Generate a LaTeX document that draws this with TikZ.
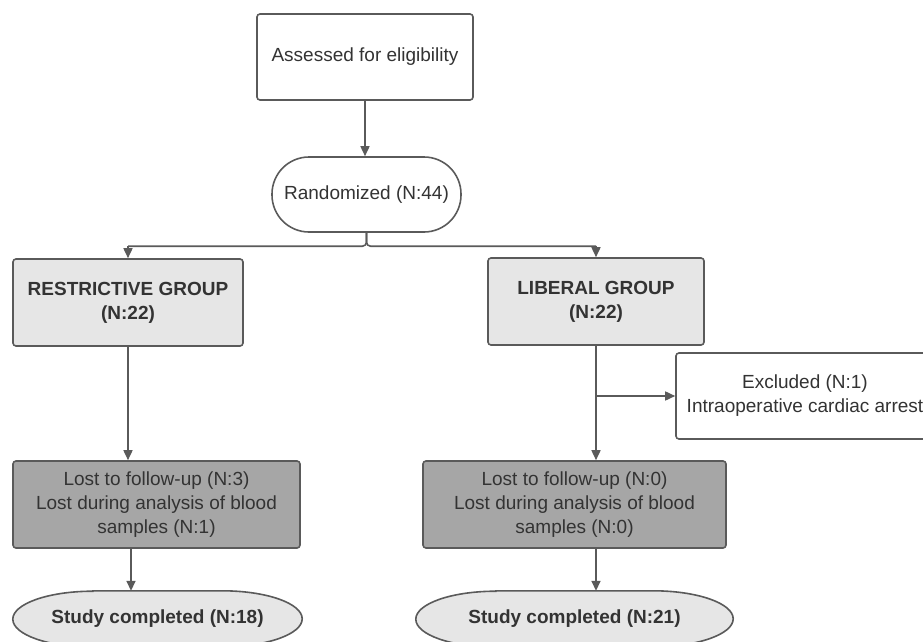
\documentclass[tikz,border=0pt]{standalone}
\usepackage{fontspec}
\setmainfont{Liberation Sans}
\usetikzlibrary{arrows.meta,backgrounds,calc}
\definecolor{linec}{HTML}{5A5A5A}
\definecolor{textc}{HTML}{333333}
\definecolor{lightg}{HTML}{E6E6E6}
\definecolor{darkg}{HTML}{A6A6A6}
\begin{document}
\begin{tikzpicture}[x=1pt,y=-1pt,
  every node/.style={font=\fontsize{19}{24}\selectfont, text=textc, align=center, inner sep=0pt},
  box/.style={draw=linec, line width=1.6pt, rounded corners=3pt, minimum height=87pt},
  lbox/.style={box, fill=lightg},
  dbox/.style={box, fill=darkg},
  arr/.style={draw=linec, line width=1.6pt, -{Triangle[length=10pt,width=9pt]}},
  ln/.style={draw=linec, line width=1.6pt},
  term/.style={draw=linec, line width=1.6pt, fill=lightg}
]
\useasboundingbox (0,0) rectangle (923,642);

\node[box, fill=white, minimum width=216pt, minimum height=86pt] (assess) at (365,57) {Assessed for eligibility};
\node[draw=linec, line width=1.6pt, fill=white, rounded corners=37pt, minimum width=189pt, minimum height=75pt] (rand) at (366.5,194.5) {Randomized (N:44)};

\node[lbox, minimum width=230pt] (rest) at (128,302.5) {\bfseries RESTRICTIVE GROUP\\\bfseries (N:22)};
\node[lbox, minimum width=216pt] (lib) at (596,301.5) {\bfseries LIBERAL GROUP\\\bfseries (N:22)};

\node[box, fill=white, minimum width=258pt, minimum height=86pt] (excl) at (805,396) {Excluded (N:1)\\Intraoperative cardiac arrest};

\node[dbox, minimum width=287pt] (lostL) at (156.5,504.5) {Lost to follow-up (N:3)\\Lost during analysis of blood\\samples (N:1)};
\node[dbox, minimum width=303pt] (lostR) at (574.5,504.5) {Lost to follow-up (N:0)\\Lost during analysis of blood\\samples (N:0)};

\node[minimum width=289pt, minimum height=56pt] (studyL) at (157.5,619) {\bfseries Study completed (N:18)};
\node[minimum width=317pt, minimum height=56pt] (studyR) at (574.5,619) {\bfseries Study completed (N:21)};

\begin{scope}[on background layer]
  \fill[white] (0,0) rectangle (923,642);
  \foreach \s in {studyL,studyR}{
    \draw[term] ([xshift=80pt]\s.north west) -- ([xshift=-80pt]\s.north east)
      arc[start angle=90, end angle=-90, x radius=80pt, y radius=28pt]
      -- ([xshift=80pt]\s.south west)
      arc[start angle=270, end angle=90, x radius=80pt, y radius=28pt] -- cycle;
  }
\end{scope}

% connectors
\draw[arr] (assess.south) -- (assess.south |- rand.north);
\coordinate (brL) at ($(rest.north)+(0,-12)$);
\coordinate (brR) at ($(lib.north |- brL)$);
\draw[ln, rounded corners=4pt] (rand.south) |- (brL);
\draw[ln, rounded corners=4pt] (rand.south) |- (brR);
\draw[arr] (brL) -- (rest.north);
\draw[arr] (brR) -- (lib.north);

\draw[arr] (rest.south) -- (rest.south |- lostL.north);
\draw[arr] (lib.south) -- (lib.south |- lostR.north);
\coordinate (exj) at (lib.south |- excl.west);
\draw[arr] (exj) -- (excl.west);

\coordinate (lsL) at ($(lostL.south)+(-25.5,0)$);
\draw[arr] (lsL) -- (lsL |- studyL.north);
\coordinate (lsR) at (lib.south |- lostR.south);
\draw[arr] (lsR) -- (lsR |- studyR.north);
\end{tikzpicture}
\end{document}
